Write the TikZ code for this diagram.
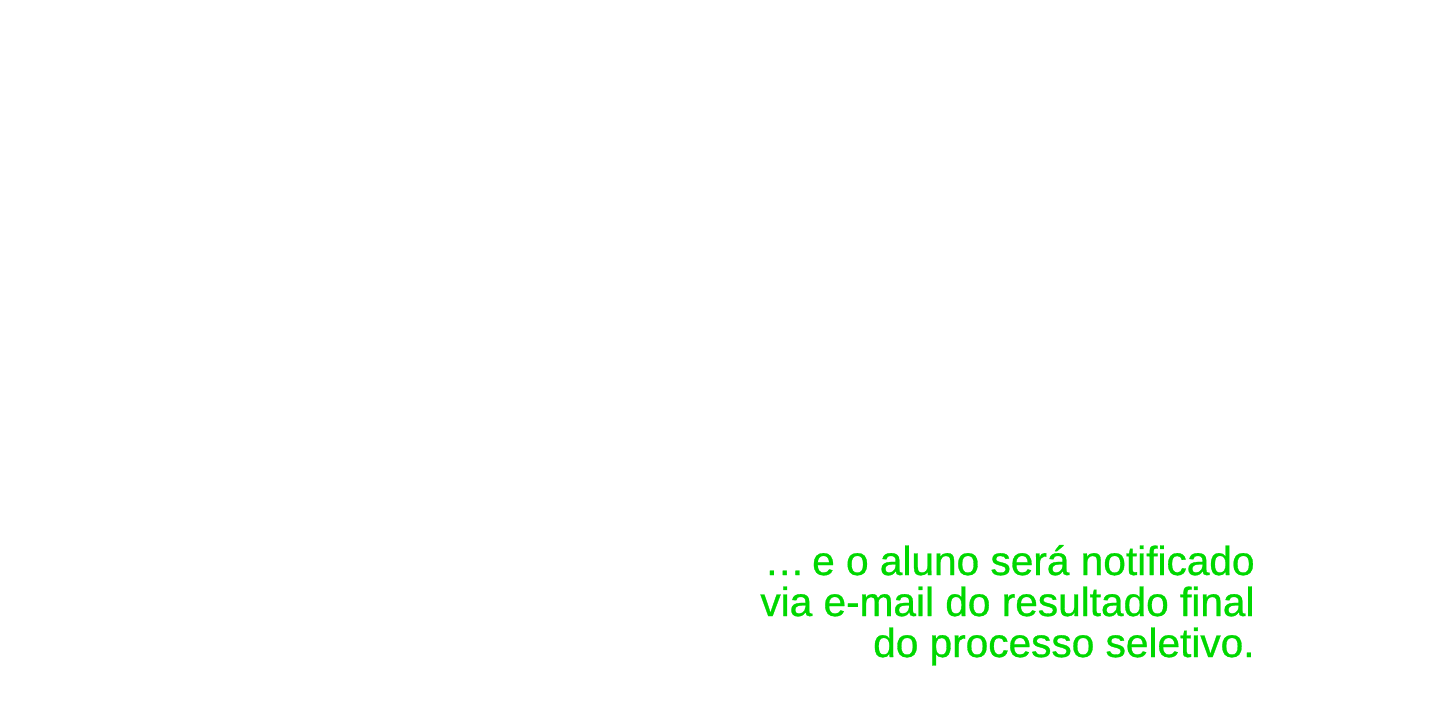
\documentclass[tikz,border=0pt]{standalone}
\usepackage{fontspec}
\setmainfont{Liberation Sans}[BoldFont=Liberation Sans, BoldFeatures={FakeBold=0.7}]
\usepackage{xcolor}
\definecolor{notegreen}{HTML}{00D800}

\begin{document}
\begin{tikzpicture}[x=1pt, y=1pt, inner sep=0pt]
		\tikzstyle{every node}=[align=right]
			\useasboundingbox (0, 0) rectangle (720, 351);
			\node[anchor=base east, text=notegreen, font=\fontsize{20.3}{20.5}\selectfont\bfseries] (notice) at (627.5, 22.5)
				{…\hspace{-0.1em} e o aluno será notificado\\via e-mail do resultado final\\do processo seletivo.};
		\end{tikzpicture}
\end{document}
